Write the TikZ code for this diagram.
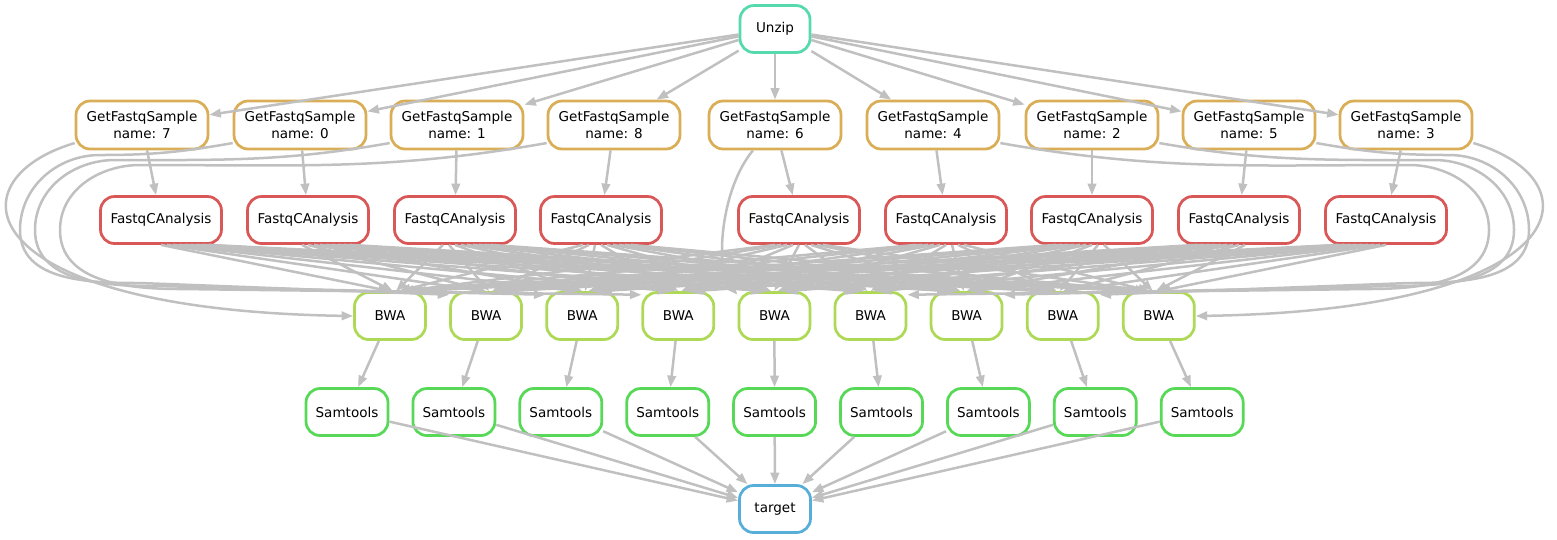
\documentclass[tikz,border=0pt]{standalone}
\usepackage{fontspec}
\setmainfont{DejaVu Sans}
\usetikzlibrary{arrows.meta,positioning}
\definecolor{edgecol}{RGB}{192,192,192}
\definecolor{unzipcol}{RGB}{87,217,174}
\definecolor{getcol}{RGB}{217,174,87}
\definecolor{fastqccol}{RGB}{217,87,87}
\definecolor{bwacol}{RGB}{174,217,87}
\definecolor{samcol}{RGB}{87,217,87}
\definecolor{targetcol}{RGB}{87,174,217}
\tikzstyle{job} = [rectangle, rounded corners=0.28cm, line width=0.055cm, fill=white, align=center, inner sep=0pt, minimum height=0.94cm, font=\fontsize{7.7}{9.7}\selectfont]
\tikzstyle{unzipnode} = [job, draw=unzipcol, minimum width=1.4cm]
\tikzstyle{getnode} = [job, draw=getcol, minimum width=2.64cm, minimum height=0.96cm]
\tikzstyle{fastqcnode} = [job, draw=fastqccol, minimum width=2.42cm]
\tikzstyle{bwanode} = [job, draw=bwacol, minimum width=1.42cm]
\tikzstyle{samnode} = [job, draw=samcol, minimum width=1.64cm]
\tikzstyle{targetnode} = [job, draw=targetcol, minimum width=1.42cm]

\begin{document}
\begin{tikzpicture}[x=0.02cm,y=-0.02cm,->,>={Triangle[length=0.23cm,width=0.17cm]},
  line width=0.05cm,draw=edgecol]
  \useasboundingbox (0,0) rectangle (1557,539);
  % rows of jobs
  \node (Unzip) [unzipnode] at (775,29) {Unzip};
  \foreach \i/\x/\s in {1/142/7,2/300/0,3/457/1,4/614/8,5/775/6,6/933/4,7/1092/2,8/1249/5,9/1406/3}
    \node (Get\i) [getnode] at (\x,125) {GetFastqSample\\name: \s};
  \foreach \i/\x in {1/161,2/308,3/455,4/601,5/799,6/946,7/1092,8/1239,9/1386}
    \node (Fastq\i) [fastqcnode] at (\x,220) {FastqCAnalysis};
  \foreach \i in {1,...,9} {
    \node (BWA\i) [bwanode] at ({390+96.1*(\i-1)},316) {BWA};
    \node (Samtools\i) [samnode] at ({347+106.9*(\i-1)},412) {Samtools};
  }
  \node (Target) [targetnode] at (775,509) {target};

  % dependencies
  \foreach \i in {1,...,9} {
    \draw (Unzip) -- (Get\i);
    \draw (Get\i) -- (Fastq\i);
    \draw (BWA\i) -- (Samtools\i);
    \draw (Samtools\i) -- (Target);
    \foreach \j in {1,...,9}
      \draw ([xshift={(\j-\i)*0.12cm}]Fastq\i.south) -- ([xshift={(\i-\j)*0.06cm}]BWA\j.north);
  }
  % sample files going round to BWA
  \draw (Get1.195) .. controls (-50,180) and (-30,310) .. (BWA1.west);
  \draw (Get9.-15) .. controls (1599,180) and (1579,310) .. (BWA9.east);
  \draw (Get5.229) .. controls (720,190) and (715,270) .. (BWA5.150);
  \foreach \i/\tx/\vy/\hy in {2/20/155/283,3/35/160/286,4/60/165/289}
    \draw (Get\i.195) to[out=190,in=0] ({\tx+80},\vy) to[out=180,in=90] (\tx,230)
      to[out=-90,in=180] ({\tx+120},\hy) -- (BWA\i.150);
  \foreach \i/\tx/\vy/\hy in {8/1529/155/283,7/1514/160/286,6/1489/165/289}
    \draw (Get\i.-15) to[out=-10,in=180] ({\tx-80},\vy) to[out=0,in=90] (\tx,230)
      to[out=-90,in=0] ({\tx-120},\hy) -- (BWA\i.30);
\end{tikzpicture}
\end{document}
